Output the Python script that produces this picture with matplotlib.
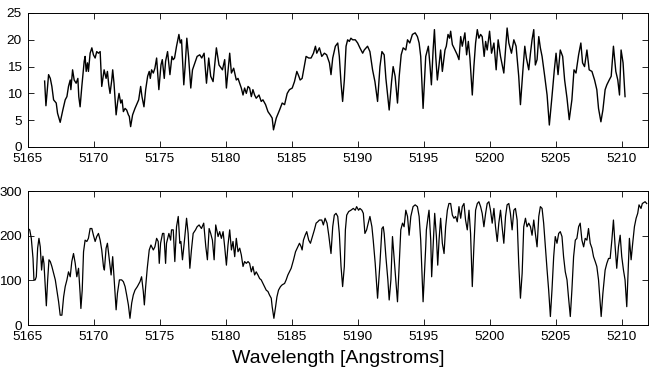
import matplotlib
matplotlib.use("Agg")
import matplotlib.pyplot as plt

plt.rcParams['font.family'] = ['Liberation Sans', 'DejaVu Sans']

# observed spectrum (top)
wl_obs = [5166.26, 5166.36, 5166.56, 5166.69, 5166.81, 5166.94, 5167.14, 5167.24, 5167.44, 5167.64,
          5167.82, 5167.95, 5168.07, 5168.20, 5168.25, 5168.38, 5168.50, 5168.65, 5168.78, 5168.85,
          5168.95, 5169.08, 5169.26, 5169.33, 5169.41, 5169.51, 5169.58, 5169.71, 5169.84, 5169.96,
          5170.09, 5170.21, 5170.34, 5170.47, 5170.59, 5170.77, 5170.92, 5171.02, 5171.12, 5171.22,
          5171.35, 5171.42, 5171.52, 5171.68, 5171.80, 5171.90, 5172.03, 5172.13, 5172.23, 5172.36,
          5172.48, 5172.61, 5172.68, 5172.78, 5172.93, 5173.11, 5173.29, 5173.39, 5173.54, 5173.64,
          5173.79, 5173.92, 5174.07, 5174.19, 5174.27, 5174.37, 5174.50, 5174.62, 5174.75, 5174.92,
          5175.08, 5175.18, 5175.33, 5175.43, 5175.58, 5175.76, 5175.91, 5176.01, 5176.11, 5176.26,
          5176.44, 5176.54, 5176.64, 5176.81, 5176.91, 5177.04, 5177.17, 5177.34, 5177.47, 5177.65,
          5177.82, 5178.02, 5178.17, 5178.35, 5178.53, 5178.70, 5178.85, 5179.03, 5179.28, 5179.48,
          5179.74, 5179.91, 5180.04, 5180.16, 5180.29, 5180.42, 5180.59, 5180.79, 5180.92, 5181.17,
          5181.30, 5181.42, 5181.55, 5181.68, 5181.80, 5181.93, 5182.05, 5182.18, 5182.30, 5182.51,
          5182.68, 5182.81, 5183.01, 5183.19, 5183.36, 5183.51, 5183.61, 5183.82, 5184.07, 5184.27,
          5184.45, 5184.65, 5184.82, 5185.03, 5185.20, 5185.38, 5185.53, 5185.63, 5185.78, 5185.96,
          5186.08, 5186.28, 5186.46, 5186.64, 5186.79, 5186.89, 5187.09, 5187.27, 5187.47, 5187.64,
          5187.85, 5187.97, 5188.10, 5188.30, 5188.48, 5188.60, 5188.73, 5188.85, 5188.98, 5189.11,
          5189.23, 5189.36, 5189.48, 5189.61, 5189.81, 5189.99, 5190.16, 5190.37, 5190.49, 5190.74,
          5190.92, 5191.12, 5191.30, 5191.50, 5191.68, 5191.83, 5192.00, 5192.13, 5192.38, 5192.56,
          5192.68, 5192.83, 5193.01, 5193.14, 5193.29, 5193.44, 5193.64, 5193.77, 5193.94, 5194.14,
          5194.35, 5194.52, 5194.65, 5194.77, 5194.95, 5195.15, 5195.35, 5195.48, 5195.58, 5195.71,
          5195.81, 5195.91, 5196.03, 5196.16, 5196.28, 5196.41, 5196.54, 5196.61, 5196.71, 5196.84,
          5196.96, 5197.04, 5197.17, 5197.29, 5197.42, 5197.54, 5197.67, 5197.80, 5197.92, 5198.12,
          5198.25, 5198.38, 5198.50, 5198.68, 5198.80, 5198.93, 5199.06, 5199.18, 5199.31, 5199.43,
          5199.58, 5199.69, 5199.81, 5199.99, 5200.14, 5200.32, 5200.49, 5200.64, 5200.82, 5201.07,
          5201.20, 5201.32, 5201.45, 5201.65, 5201.83, 5202.00, 5202.20, 5202.33, 5202.51, 5202.66,
          5202.78, 5202.96, 5203.09, 5203.21, 5203.34, 5203.46, 5203.59, 5203.72, 5203.84, 5203.97,
          5204.17, 5204.35, 5204.52, 5204.72, 5204.90, 5205.03, 5205.18, 5205.35, 5205.53, 5205.68,
          5205.86, 5206.03, 5206.23, 5206.39, 5206.54, 5206.74, 5206.91, 5207.04, 5207.19, 5207.37,
          5207.54, 5207.75, 5207.95, 5208.12, 5208.25, 5208.43, 5208.58, 5208.75, 5208.88, 5209.06,
          5209.21, 5209.38, 5209.56, 5209.71, 5209.84, 5209.96, 5210.11, 5210.26]
flux_obs = [12.3, 7.7, 13.5, 12.8, 11.3, 8.8, 8.2, 6.3, 4.6, 6.9,
            8.8, 9.4, 11.3, 12.5, 10.7, 14.4, 12.5, 11.9, 12.8, 9.4,
            7.5, 11.3, 16.0, 16.9, 14.1, 15.7, 14.1, 17.5, 18.5, 17.2,
            16.6, 17.8, 17.5, 17.8, 11.3, 14.4, 12.8, 14.1, 11.6, 10.0,
            12.5, 14.4, 11.9, 6.0, 8.5, 10.0, 8.2, 8.8, 6.6, 7.2,
            6.9, 6.0, 5.7, 3.8, 6.0, 7.2, 8.2, 8.8, 11.3, 9.4,
            7.5, 10.7, 13.2, 14.1, 12.8, 14.4, 13.8, 14.7, 16.6, 10.7,
            15.3, 16.3, 12.8, 16.0, 17.8, 13.5, 16.9, 16.3, 16.6, 18.8,
            21.0, 19.4, 20.0, 11.6, 15.0, 20.3, 16.9, 11.0, 14.4, 15.7,
            16.9, 17.2, 16.6, 17.5, 11.9, 16.6, 13.2, 12.2, 18.5, 15.3,
            14.4, 16.3, 11.0, 14.1, 17.5, 13.8, 14.7, 12.5, 12.8, 11.0,
            9.7, 11.0, 10.0, 11.3, 11.0, 9.4, 10.7, 9.7, 9.1, 9.7,
            8.5, 8.8, 7.9, 6.6, 6.0, 5.4, 3.2, 5.4, 6.9, 8.2,
            7.9, 10.0, 10.7, 11.0, 12.2, 14.1, 13.2, 12.5, 12.8, 15.3,
            16.9, 16.6, 16.6, 17.5, 18.8, 17.5, 18.5, 16.9, 17.5, 17.2,
            15.7, 13.5, 16.6, 18.8, 19.4, 16.9, 11.9, 8.5, 12.5, 18.8,
            20.0, 19.7, 20.3, 20.0, 20.0, 19.4, 18.5, 17.5, 18.1, 18.8,
            17.8, 14.4, 12.2, 8.5, 15.0, 17.8, 17.2, 12.8, 6.9, 12.2,
            15.0, 13.2, 8.2, 13.2, 17.2, 18.5, 18.1, 20.0, 19.4, 21.0,
            21.3, 20.6, 19.4, 16.9, 7.2, 16.9, 18.8, 15.0, 11.6, 18.1,
            21.9, 16.9, 12.5, 15.3, 18.1, 14.1, 16.6, 18.1, 18.8, 21.0,
            20.3, 21.6, 19.1, 18.5, 17.8, 17.2, 16.3, 20.6, 18.8, 21.3,
            17.2, 19.7, 16.6, 9.7, 15.0, 19.4, 21.9, 20.3, 21.0, 20.6,
            16.9, 19.7, 18.1, 21.6, 17.5, 19.4, 14.4, 20.0, 16.9, 13.8,
            18.1, 22.2, 19.4, 17.5, 20.0, 18.8, 13.2, 7.9, 14.1, 18.8,
            16.6, 14.4, 17.5, 20.0, 21.9, 15.3, 16.3, 20.6, 18.5, 16.9,
            13.2, 9.7, 4.1, 9.4, 14.4, 17.5, 13.5, 18.1, 16.9, 12.5,
            9.1, 5.1, 8.8, 14.4, 13.8, 17.2, 19.4, 15.7, 15.0, 18.1,
            14.4, 14.1, 12.5, 10.7, 7.2, 4.7, 6.9, 10.7, 11.6, 12.5,
            13.2, 18.8, 14.1, 12.5, 9.7, 18.1, 15.7, 9.4]

# model spectrum (bottom)
wl_mod = [5165.00, 5165.13, 5165.25, 5165.38, 5165.45, 5165.55, 5165.63, 5165.73, 5165.83, 5165.93,
          5166.03, 5166.13, 5166.21, 5166.28, 5166.39, 5166.49, 5166.59, 5166.69, 5166.81, 5166.94,
          5167.07, 5167.19, 5167.32, 5167.44, 5167.57, 5167.70, 5167.82, 5167.95, 5168.07, 5168.20,
          5168.32, 5168.45, 5168.58, 5168.70, 5168.83, 5168.95, 5169.01, 5169.11, 5169.21, 5169.33,
          5169.46, 5169.58, 5169.71, 5169.84, 5169.96, 5170.09, 5170.21, 5170.34, 5170.47, 5170.59,
          5170.72, 5170.79, 5170.92, 5171.02, 5171.17, 5171.30, 5171.42, 5171.60, 5171.68, 5171.78,
          5171.93, 5172.10, 5172.23, 5172.36, 5172.48, 5172.61, 5172.73, 5172.86, 5172.98, 5173.11,
          5173.29, 5173.49, 5173.61, 5173.74, 5173.82, 5173.92, 5174.04, 5174.19, 5174.32, 5174.50,
          5174.62, 5174.75, 5174.87, 5174.95, 5175.05, 5175.20, 5175.30, 5175.43, 5175.50, 5175.68,
          5175.81, 5175.88, 5176.01, 5176.13, 5176.26, 5176.39, 5176.51, 5176.59, 5176.71, 5176.84,
          5177.02, 5177.14, 5177.27, 5177.39, 5177.52, 5177.70, 5177.82, 5177.97, 5178.15, 5178.32,
          5178.48, 5178.60, 5178.73, 5178.85, 5178.98, 5179.11, 5179.23, 5179.41, 5179.53, 5179.66,
          5179.79, 5179.91, 5180.04, 5180.16, 5180.29, 5180.42, 5180.54, 5180.67, 5180.79, 5180.92,
          5181.05, 5181.17, 5181.30, 5181.42, 5181.55, 5181.68, 5181.80, 5181.93, 5182.05, 5182.18,
          5182.30, 5182.43, 5182.56, 5182.68, 5182.81, 5182.93, 5183.06, 5183.19, 5183.31, 5183.44,
          5183.51, 5183.64, 5183.77, 5183.87, 5183.99, 5184.14, 5184.27, 5184.45, 5184.57, 5184.70,
          5184.82, 5184.95, 5185.13, 5185.28, 5185.45, 5185.58, 5185.71, 5185.78, 5185.88, 5186.01,
          5186.13, 5186.28, 5186.41, 5186.59, 5186.71, 5186.84, 5186.96, 5187.09, 5187.27, 5187.39,
          5187.52, 5187.67, 5187.80, 5187.97, 5188.10, 5188.22, 5188.35, 5188.48, 5188.60, 5188.73,
          5188.85, 5188.98, 5189.06, 5189.16, 5189.31, 5189.48, 5189.66, 5189.81, 5189.91, 5190.06,
          5190.16, 5190.31, 5190.42, 5190.54, 5190.67, 5190.79, 5190.92, 5191.07, 5191.17, 5191.32,
          5191.50, 5191.68, 5191.83, 5191.93, 5192.00, 5192.13, 5192.28, 5192.38, 5192.51, 5192.63,
          5192.76, 5192.88, 5193.01, 5193.14, 5193.26, 5193.39, 5193.51, 5193.64, 5193.77, 5193.89,
          5194.02, 5194.19, 5194.35, 5194.52, 5194.65, 5194.77, 5194.95, 5195.15, 5195.20, 5195.33,
          5195.40, 5195.53, 5195.60, 5195.73, 5195.83, 5195.96, 5196.06, 5196.16, 5196.28, 5196.41,
          5196.54, 5196.66, 5196.79, 5196.91, 5197.04, 5197.17, 5197.29, 5197.42, 5197.54, 5197.67,
          5197.80, 5197.92, 5198.05, 5198.17, 5198.30, 5198.43, 5198.55, 5198.68, 5198.80, 5198.93,
          5199.06, 5199.18, 5199.31, 5199.43, 5199.56, 5199.69, 5199.81, 5199.94, 5200.06, 5200.19,
          5200.32, 5200.44, 5200.57, 5200.69, 5200.82, 5200.94, 5201.07, 5201.20, 5201.32, 5201.45,
          5201.57, 5201.70, 5201.83, 5201.95, 5202.08, 5202.20, 5202.33, 5202.46, 5202.58, 5202.71,
          5202.83, 5202.96, 5203.09, 5203.21, 5203.34, 5203.46, 5203.59, 5203.72, 5203.84, 5203.97,
          5204.09, 5204.22, 5204.35, 5204.47, 5204.60, 5204.72, 5204.85, 5204.97, 5205.10, 5205.23,
          5205.35, 5205.48, 5205.60, 5205.73, 5205.86, 5205.98, 5206.11, 5206.23, 5206.36, 5206.49,
          5206.61, 5206.74, 5206.86, 5206.99, 5207.12, 5207.24, 5207.37, 5207.49, 5207.62, 5207.75,
          5207.87, 5208.00, 5208.12, 5208.25, 5208.38, 5208.45, 5208.58, 5208.75, 5208.88, 5209.01,
          5209.13, 5209.26, 5209.38, 5209.51, 5209.63, 5209.76, 5209.89, 5210.01, 5210.14, 5210.26,
          5210.39, 5210.52, 5210.59, 5210.72, 5210.84, 5210.97, 5211.10, 5211.22, 5211.32, 5211.47,
          5211.57, 5211.78, 5211.90]
flux_mod = [216, 213, 194, 149, 101, 101, 108, 172, 194, 175,
            123, 154, 138, 101, 43, 101, 146, 142, 131, 116,
            101, 78, 52, 22, 22, 63, 86, 101, 119, 108,
            142, 160, 138, 108, 127, 71, 37, 78, 164, 190,
            187, 194, 216, 216, 201, 187, 198, 205, 190, 168,
            131, 123, 172, 183, 146, 112, 153, 71, 34, 71,
            101, 101, 97, 86, 67, 45, 15, 49, 67, 78,
            86, 97, 108, 75, 45, 86, 127, 168, 179, 168,
            175, 194, 187, 138, 183, 205, 205, 138, 183, 205,
            190, 213, 213, 142, 220, 243, 183, 187, 146, 183,
            239, 205, 127, 168, 205, 213, 220, 224, 216, 228,
            175, 146, 216, 205, 190, 146, 224, 198, 209, 194,
            209, 175, 134, 179, 213, 168, 187, 153, 194, 164,
            172, 157, 131, 142, 138, 142, 138, 119, 131, 112,
            119, 112, 104, 101, 93, 86, 78, 75, 67, 60,
            41, 15, 41, 63, 78, 86, 90, 93, 101, 112,
            119, 127, 146, 164, 175, 183, 175, 168, 190, 201,
            209, 190, 183, 201, 213, 228, 231, 235, 235, 224,
            239, 228, 201, 160, 220, 246, 250, 243, 205, 131,
            86, 131, 213, 246, 254, 257, 261, 257, 265, 257,
            261, 257, 250, 205, 213, 228, 243, 220, 190, 138,
            60, 138, 216, 220, 205, 153, 101, 56, 101, 198,
            146, 101, 52, 138, 213, 228, 220, 257, 243, 201,
            243, 265, 269, 265, 243, 190, 52, 175, 213, 243,
            257, 190, 108, 190, 250, 198, 134, 190, 239, 183,
            160, 220, 257, 272, 272, 246, 239, 243, 231, 265,
            239, 265, 272, 235, 213, 257, 205, 86, 175, 257,
            272, 276, 265, 250, 220, 250, 272, 276, 257, 228,
            261, 220, 187, 228, 257, 220, 183, 243, 269, 272,
            250, 213, 257, 261, 235, 138, 60, 116, 220, 239,
            220, 228, 220, 201, 235, 205, 175, 243, 265, 261,
            228, 175, 123, 78, 19, 78, 153, 198, 183, 205,
            209, 198, 153, 119, 101, 60, 19, 78, 153, 190,
            194, 220, 228, 190, 175, 194, 190, 216, 183, 172,
            153, 142, 131, 101, 49, 19, 71, 123, 138, 149,
            149, 190, 235, 175, 127, 175, 201, 153, 123, 101,
            41, 138, 194, 146, 183, 220, 239, 250, 269, 261,
            272, 276, 272]

W, H = 653, 370
fig = plt.figure(figsize=(W / 100, H / 100), dpi=100)

ax1 = fig.add_axes([28 / W, 1 - 147 / H, 620 / W, 134 / H])
ax2 = fig.add_axes([28 / W, 1 - 325 / H, 620 / W, 134 / H])

ax1.plot(wl_obs, flux_obs, color='black', lw=1.0)
ax2.plot(wl_mod, flux_mod, color='black', lw=0.9)

ax1.set_ylim(0, 25)
ax1.set_yticks([0, 5, 10, 15, 20, 25])
ax2.set_ylim(0, 300)
ax2.set_yticks([0, 100, 200, 300])

for ax in (ax1, ax2):
    ax.set_xlim(5165, 5212)
    ax.set_xticks([5165, 5170, 5175, 5180, 5185, 5190, 5195, 5200, 5205, 5210])
    ax.tick_params(direction='in', top=True, right=True, length=4, width=0.6,
                   labelsize=9.7, pad=4.5)
    for s in ax.spines.values():
        s.set_linewidth(0.7)

fig.text(338 / W, 7 / H, 'Wavelength [Angstroms]', ha='center', va='baseline',
         fontsize=14)

fig.savefig('out.png', dpi=100)
